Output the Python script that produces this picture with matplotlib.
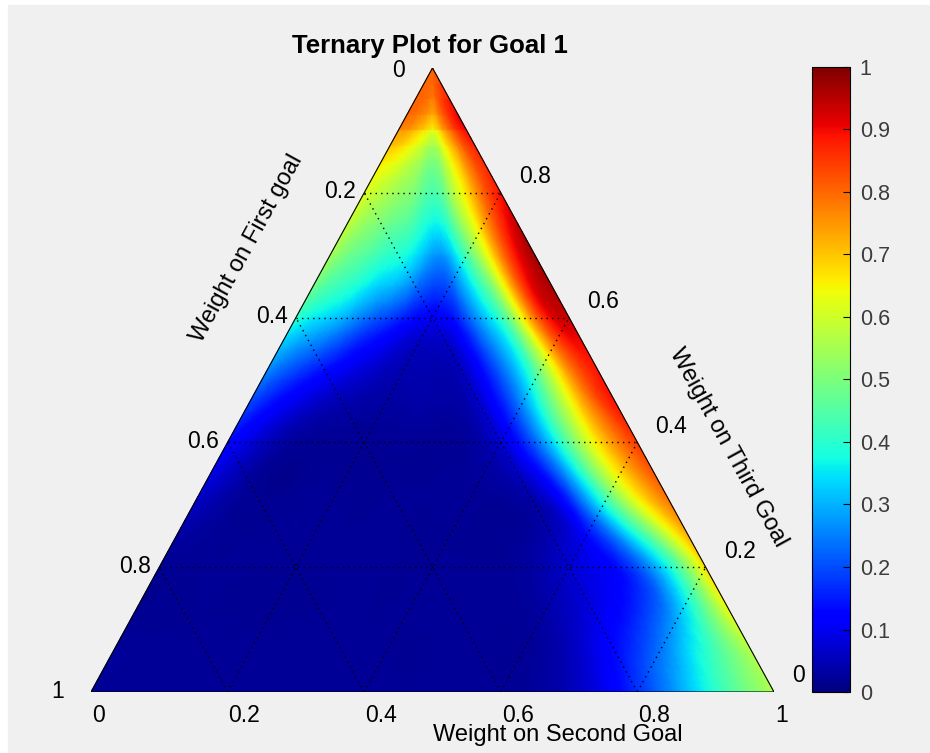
import numpy as np
import matplotlib.pyplot as plt
import matplotlib.tri as mtri
from matplotlib.patches import Rectangle

plt.rcParams['font.family'] = ['Liberation Sans', 'DejaVu Sans']

# filas del triangulo: altura (0.9 arriba ... 0 = base); el vertice va aparte
alturas = [0.9, 0.8, 0.7, 0.6, 0.5, 0.4, 0.3, 0.2, 0.1, 0.0]
# posicion dentro de cada fila (0 = borde izquierdo, 1 = borde derecho)
pos_fila = [0.0, 0.1, 0.2, 0.3, 0.4, 0.5, 0.6, 0.7, 0.8, 0.9, 1.0]

# valores
z_vertice = 0.80
z_h09 = [0.76, 0.75, 0.73, 0.70, 0.67, 0.64, 0.69, 0.76, 0.82, 0.87, 0.90]
z_h08 = [0.62, 0.58, 0.55, 0.52, 0.48, 0.44, 0.50, 0.62, 0.73, 0.83, 0.89]
z_h07 = [0.55, 0.48, 0.44, 0.40, 0.36, 0.28, 0.33, 0.50, 0.70, 0.88, 0.97]
z_h06 = [0.40, 0.34, 0.28, 0.21, 0.15, 0.11, 0.17, 0.33, 0.55, 0.85, 0.93]
z_h05 = [0.24, 0.16, 0.10, 0.06, 0.04, 0.04, 0.06, 0.20, 0.42, 0.72, 0.89]
z_h04 = [0.13, 0.05, 0.02, 0.02, 0.02, 0.02, 0.03, 0.12, 0.36, 0.66, 0.85]
z_h03 = [0.06, 0.02, 0.02, 0.02, 0.02, 0.02, 0.02, 0.03, 0.18, 0.52, 0.78]
z_h02 = [0.02, 0.02, 0.02, 0.02, 0.02, 0.02, 0.02, 0.04, 0.10, 0.27, 0.68]
z_h01 = [0.02, 0.02, 0.02, 0.02, 0.02, 0.02, 0.02, 0.04, 0.13, 0.30, 0.60]
z_h00 = [0.02, 0.02, 0.02, 0.02, 0.02, 0.02, 0.02, 0.05, 0.17, 0.37, 0.56]

grilla = [0.2, 0.4, 0.6, 0.8]
etiq_izq = ['0', '0.2', '0.4', '0.6', '0.8', '1']
etiq_der = ['0.8', '0.6', '0.4', '0.2', '0']
etiq_base = ['0', '0.2', '0.4', '0.6', '0.8', '1']
etiq_cbar = ['0', '0.1', '0.2', '0.3', '0.4', '0.5', '0.6', '0.7', '0.8', '0.9', '1']

filas = [z_h09, z_h08, z_h07, z_h06, z_h05, z_h04, z_h03, z_h02, z_h01, z_h00]
nf, nc = len(alturas), len(pos_fila)

# nodos: vertice + filas
xs, ys, zs = [0.5], [1.0], [z_vertice]
for h, fila in zip(alturas, filas):
    for s, z in zip(pos_fila, fila):
        xs.append(0.5 * h + s * (1 - h))
        ys.append(h)
        zs.append(z)

def idx(r, k):
    return 1 + r * nc + k

tris = []
for k in range(nc - 1):
    tris.append([0, idx(0, k), idx(0, k + 1)])
for r in range(nf - 1):
    for k in range(nc - 1):
        a, b = idx(r, k), idx(r, k + 1)
        c, d = idx(r + 1, k), idx(r + 1, k + 1)
        if k < (nc - 1) // 2:   # lado izquierdo: diagonal b-c
            tris += [[a, b, c], [b, d, c]]
        else:                    # lado derecho: diagonal a-d
            tris += [[a, b, d], [a, d, c]]
tri = mtri.Triangulation(xs, ys, tris)

# sombreado suave (como shading interp)
refiner = mtri.UniformTriRefiner(tri)
tri_fina, z_fina = refiner.refine_field(np.array(zs), subdiv=3)
z_fina = np.clip(z_fina, 0, 1)

fig = plt.figure(figsize=(9.3, 7.53), dpi=100, facecolor='white')
fig.patches.append(Rectangle((8 / 930, 0), 1, 748 / 753, transform=fig.transFigure,
                             color='#f0f0f0', zorder=-1))

ax = fig.add_axes([91 / 930, 61 / 753, 683 / 930, 624 / 753])
ax.set_xlim(0, 1)
ax.set_ylim(0, 1)
ax.axis('off')

m = ax.tripcolor(tri_fina, z_fina, shading='gouraud', cmap='jet', vmin=0, vmax=1)

# grilla punteada
for k in grilla:
    ax.plot([0.5 * k, 1 - 0.5 * k], [k, k], color='k', lw=1, ls=(0, (1, 3)))
    ax.plot([k, k + 0.5 * (1 - k)], [0, 1 - k], color='k', lw=1, ls=(0, (1, 3)))
    ax.plot([k, 0.5 * k], [0, k], color='k', lw=1, ls=(0, (1, 3)))
ax.plot([0, 1, 0.5, 0], [0, 0, 1, 0], color='k', lw=0.8)

fs = 16.5
alt_izq = [1.0, 0.8, 0.6, 0.4, 0.2, 0.0]
dy_izq = [-3, 1, 1, 1, 1, 0]
for h, t, dy in zip(alt_izq, etiq_izq, dy_izq):
    ax.annotate(t, xy=(0.5 * h, h), xytext=(-40, dy), textcoords='offset pixels',
                ha='left', va='center', fontsize=fs, annotation_clip=False)
alt_der = [0.8, 0.6, 0.4, 0.2, 0.0]
for h, t in zip(alt_der, etiq_der):
    ax.annotate(t, xy=(1 - 0.5 * h, h), xytext=(18, 16), textcoords='offset pixels',
                ha='left', va='center', fontsize=fs, annotation_clip=False)
pos_base = [0.0, 0.2, 0.4, 0.6, 0.8, 1.0]
for x, t in zip(pos_base, etiq_base):
    ax.annotate(t, xy=(x, 0), xytext=(1, -24), textcoords='offset pixels',
                ha='left', va='center', fontsize=fs, annotation_clip=False)

fig.text(430 / 930, 1 - 46 / 753, 'Ternary Plot for Goal 1', ha='center', va='center',
         fontsize=18.5, fontweight='bold')
fig.text(558 / 930, 1 - 735 / 753, 'Weight on Second Goal', ha='center', va='center', fontsize=17)
fig.text(247 / 930, 1 - 248 / 753, 'Weight on First goal', ha='center', va='center',
         fontsize=17, rotation=61.3, rotation_mode='anchor')
fig.text(728 / 930, 1 - 448 / 753, 'Weight on Third Goal', ha='center', va='center',
         fontsize=17, rotation=-61.3, rotation_mode='anchor')

cax = fig.add_axes([812 / 930, 61 / 753, 38 / 930, 625 / 753])
cb = fig.colorbar(m, cax=cax, ticks=np.linspace(0, 1, 11))
cb.ax.set_yticklabels(etiq_cbar)
cax.tick_params(direction='in', length=5, width=0.8, pad=7, labelsize=15.5, labelcolor='#3c3c3c')
cb.outline.set_linewidth(0.8)

fig.savefig('out.png', dpi=100, facecolor=fig.get_facecolor())
